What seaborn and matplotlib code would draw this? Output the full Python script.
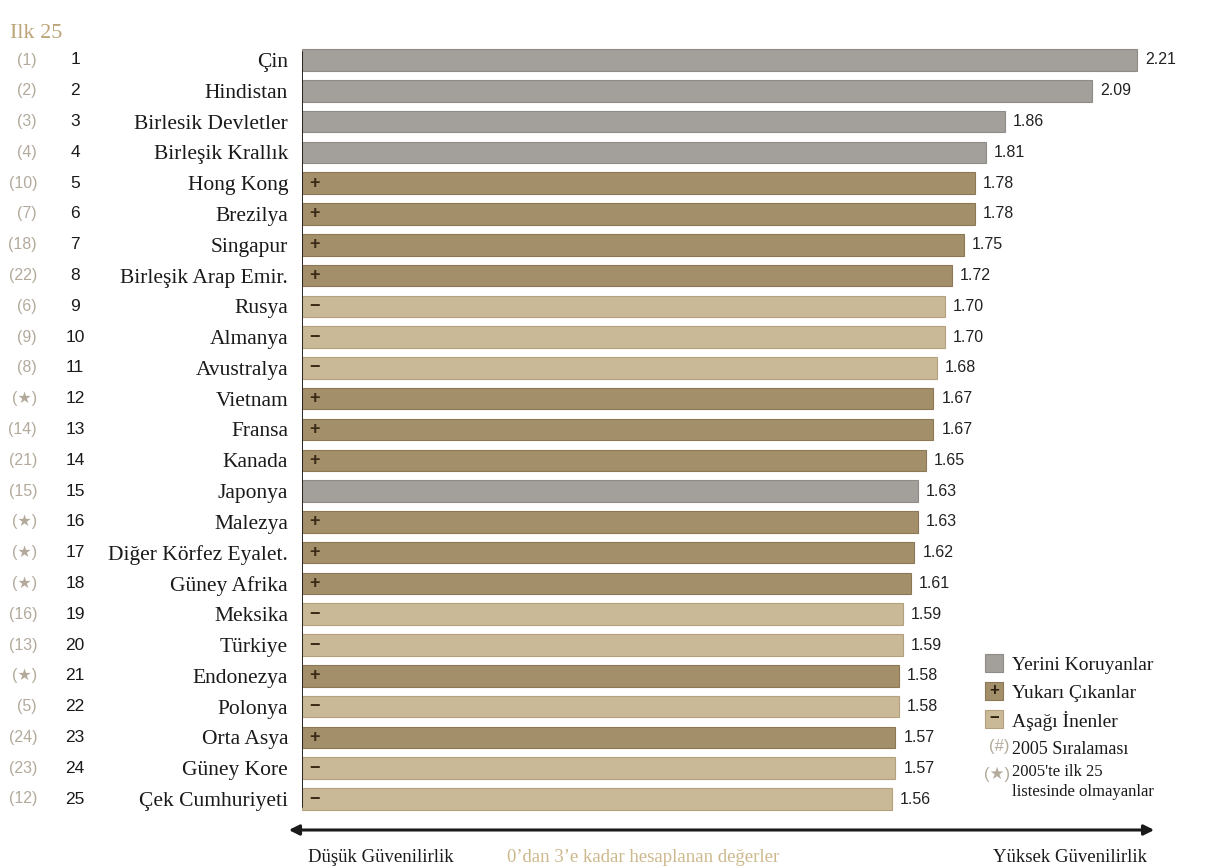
import matplotlib
matplotlib.use("Agg")
import matplotlib.pyplot as plt
from matplotlib.patches import Rectangle, FancyArrowPatch
import seaborn as sns
import pandas as pd

# Top-25 countries, scores (0-3 scale), 2005 ranks and movement vs. 2005
countries = ["Çin", "Hindistan", "Birlesik Devletler", "Birleşik Krallık", "Hong Kong",
             "Brezilya", "Singapur", "Birleşik Arap Emir.", "Rusya", "Almanya",
             "Avustralya", "Vietnam", "Fransa", "Kanada", "Japonya",
             "Malezya", "Diğer Körfez Eyalet.", "Güney Afrika", "Meksika", "Türkiye",
             "Endonezya", "Polonya", "Orta Asya", "Güney Kore", "Çek Cumhuriyeti"]
scores = [2.21, 2.09, 1.86, 1.81, 1.78, 1.78, 1.75, 1.72, 1.70, 1.70,
          1.68, 1.67, 1.67, 1.65, 1.63, 1.63, 1.62, 1.61, 1.59, 1.59,
          1.58, 1.58, 1.57, 1.57, 1.56]
ranks = list(range(1, 26))
ranks_2005 = ["1", "2", "3", "4", "10", "7", "18", "22", "6", "9",
              "8", "★", "14", "21", "15", "★", "★", "★", "16", "13",
              "★", "5", "24", "23", "12"]
movement = ["same", "same", "same", "same", "up", "up", "up", "up", "down", "down",
            "down", "up", "up", "up", "same", "up", "up", "up", "down", "down",
            "up", "down", "up", "down", "down"]

legend_labels = ["Yerini Koruyanlar", "Yukarı Çıkanlar", "Aşağı İnenler"]
legend_note_rank = "2005 Sıralaması"
legend_note_star = "2005'te ilk 25\nlistesinde olmayanlar"
title = "Ilk 25"
axis_low = "Düşük Güvenilirlik"
axis_mid = "0’dan 3’e kadar hesaplanan değerler"
axis_high = "Yüksek Güvenilirlik"

palette = {"same": "#a3a09c", "up": "#a48f6b", "down": "#cab996"}
edges = {"same": "#8f8b86", "up": "#8c7855", "down": "#b3a07c"}
tan = "#bca679"
rank_grey = "#b3aa9c"
serif = ["Liberation Serif", "DejaVu Serif"]
sans = ["Liberation Sans", "DejaVu Sans"]

df = pd.DataFrame({"country": countries, "score": scores, "move": movement})

sns.set_theme(style="white")
fig = plt.figure(figsize=(12.24, 8.68), dpi=100)
W, H = 1224, 868
ax_left, ax_right = 302, 1160
ax_top, ax_bottom = 44.6, 814.4
ax = fig.add_axes([ax_left / W, 1 - ax_bottom / H,
                   (ax_right - ax_left) / W, (ax_bottom - ax_top) / H])

sns.barplot(data=df, x="score", y="country", hue="move", palette=palette,
            dodge=False, width=0.7, legend=False, ax=ax, orient="h",
            saturation=1)
# outline each bar in a slightly darker tone of its fill
for patch in ax.patches:
    fc = matplotlib.colors.to_hex(patch.get_facecolor())
    for key, col in palette.items():
        if fc.lower() == col.lower():
            patch.set_edgecolor(edges[key])
            patch.set_linewidth(0.8)

xmax = (ax_right - ax_left) / 378.0
ax.set_xlim(0, xmax)
ax.set_ylim(len(countries) - 0.5, -0.5)
for s in ax.spines.values():
    s.set_visible(False)
ax.set_xlabel("")
ax.set_ylabel("")
ax.set_xticks([])
ax.set_yticks([])
ax.axvline(0, ymin=0.01, ymax=0.99, color="#2a2520", lw=1.4)

unit = 1 / 378.0  # data units per pixel
for i, (c, v, m) in enumerate(zip(countries, scores, movement)):
    ax.text(v + 8 * unit, i, f"{v:.2f}", va="center", ha="left",
            fontsize=11.5, family=sans, color="#222222")
    if m == "up":
        ax.text(12 * unit, i, "+", va="center", ha="center", fontsize=13,
                fontweight="bold", color="#3a2a18", family=sans)
    elif m == "down":
        ax.text(12 * unit, i, "−", va="center", ha="center", fontsize=13,
                fontweight="bold", color="#3a2a18", family=sans)
    ax.text(-14 * unit, i, c, va="center_baseline", ha="right", fontsize=15.5,
            family=serif, color="#1a1a1a")

# Rank columns to the left of the names
for i, (r, p) in enumerate(zip(ranks, ranks_2005)):
    y_fig = 1 - (60 + i * (739 / 24)) / H
    fig.text(75 / W, y_fig, str(r), ha="center", va="center",
             fontsize=12.5, family=sans, color="#1a1a1a")
    fig.text(37 / W, y_fig, f"({p})", ha="right", va="center",
             fontsize=11.5, family=sans, color=rank_grey)

fig.text(10 / W, 1 - 33 / H, title, ha="left", va="center", fontsize=16,
         family=serif, color=tan)

# Double-headed arrow under the bars
fig.add_artist(FancyArrowPatch(
    (286 / W, 1 - 830 / H), (1157 / W, 1 - 830 / H),
    transform=fig.transFigure, arrowstyle="<|-|>", mutation_scale=15,
    color="#1a1a1a", lw=2.2))
fig.text(308 / W, 1 - 856 / H, axis_low, ha="left", va="center_baseline",
         fontsize=13.5, family=serif, color="#1a1a1a")
fig.text(643 / W, 1 - 856 / H, axis_mid, ha="center", va="center_baseline",
         fontsize=13.5, family=serif, color="#cdb88b")
fig.text(1147 / W, 1 - 856 / H, axis_high, ha="right", va="center_baseline",
         fontsize=13.5, family=serif, color="#1a1a1a")

# Legend
sq = 18
sq_right = 1003
text_x = 1012
for k, (lab, key) in enumerate(zip(legend_labels, ["same", "up", "down"])):
    yc = 663 + k * 28
    fig.add_artist(Rectangle(((sq_right - sq) / W, 1 - (yc + sq / 2) / H), sq / W, sq / H,
                             transform=fig.transFigure, facecolor=palette[key],
                             edgecolor=edges[key], lw=0.8))
    cx = (sq_right - sq / 2) / W
    if key == "up":
        fig.text(cx, 1 - yc / H, "+", ha="center", va="center",
                 fontsize=12, fontweight="bold", color="#2a1f10", family=sans)
    elif key == "down":
        fig.text(cx, 1 - yc / H, "−", ha="center", va="center",
                 fontsize=12, fontweight="bold", color="#2a1f10", family=sans)
    fig.text(text_x / W, 1 - yc / H, lab, ha="left", va="center_baseline",
             fontsize=14, family=serif, color="#1a1a1a")

fig.text((text_x - 2) / W, 1 - 747 / H, "(#)", ha="right", va="center",
         fontsize=12, family=sans, color=rank_grey)
fig.text(text_x / W, 1 - 747 / H, legend_note_rank, ha="left", va="center_baseline",
         fontsize=13, family=serif, color="#1a1a1a")
fig.text((text_x - 2) / W, 1 - 774 / H, "(★)", ha="right", va="center",
         fontsize=12, family=sans, color=rank_grey)
fig.text(text_x / W, 1 - 782 / H, legend_note_star, ha="left", va="center",
         fontsize=12, family=serif, color="#1a1a1a", linespacing=1.25)

fig.savefig("out.png", dpi=100)
